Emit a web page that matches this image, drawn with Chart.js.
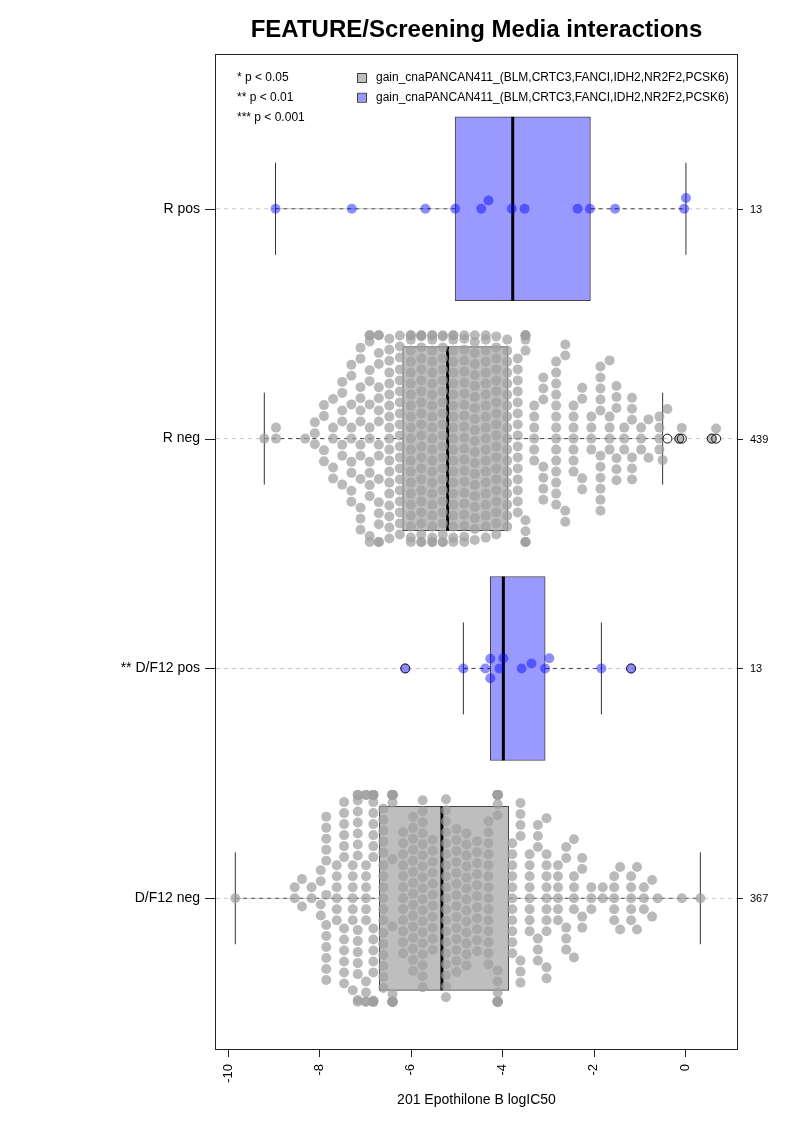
<!DOCTYPE html>
<html><head><meta charset="utf-8">
<script src="https://cdn.jsdelivr.net/npm/chart.js@4.4.0/dist/chart.umd.min.js"></script>
<style>html,body{margin:0;padding:0;background:#fff;}#wrap{width:793px;height:1122px;}</style>
</head><body><div id="wrap"><canvas id="c" width="793" height="1122"></canvas></div>
<script>
// ---------- data ----------
const title = 'FEATURE/Screening Media interactions';
const xTitle = '201 Epothilone B logIC50';
const categories = ['D/F12 neg', '** D/F12 pos', 'R neg', 'R pos']; // positions 1..4 (bottom to top)
const catPos = [1, 2, 3, 4];
const groupN = ['367', '13', '439', '13'];
const isPosGroup = [false, true, false, true];
const xTicks = [-10, -8, -6, -4, -2, 0];
const pLegend = ['* p < 0.05', '** p < 0.01', '*** p < 0.001'];
const seriesLegend = ['gain_cnaPANCAN411_(BLM,CRTC3,FANCI,IDH2,NR2F2,PCSK6)', 'gain_cnaPANCAN411_(BLM,CRTC3,FANCI,IDH2,NR2F2,PCSK6)'];

// box stats: [lower whisker, Q1, median, Q3, upper whisker]
const boxDF12neg = [-9.84, -6.689, -5.318, -3.859, 0.335];
const boxDF12pos = [-4.85, -4.26, -3.975, -3.06, -1.83];
const boxRneg = [-9.205, -6.178, -5.194, -3.873, -0.49];
const boxRpos = [-8.96, -5.03, -3.77, -2.07, 0.02];

// outliers
const outDF12neg = [];
const outDF12pos = [-6.12, -1.18];
const outRneg = [-0.385, -0.125, -0.07, 0.584, 0.68];
const outRpos = [];

// individual points (small groups)
const ptsRpos = [-8.96, -7.29, -5.68, -5.03, -4.46, -4.30, -3.79, -3.51, -2.35, -2.08, -1.53, -0.02, 0.02];
const ptsDF12pos = [-6.12, -4.85, -4.37, -4.26, -4.26, -4.06, -3.975, -3.575, -3.36, -3.06, -2.97, -1.83, -1.18];

// large groups: columns of points (value, number of points at that value)
const colRnegX = [-9.205, -8.95, -8.31, -8.10, -7.90, -7.70, -7.50, -7.30, -7.10, -6.90, -6.70, -6.47, -6.24,
  -6.00, -5.77, -5.53, -5.30, -5.07, -4.83, -4.60, -4.36, -4.13, -3.89,
  -3.66, -3.49, -3.30, -3.10, -2.82, -2.62, -2.44, -2.25, -2.05, -1.85, -1.65, -1.50, -1.33, -1.16, -0.96, -0.80, -0.56, -0.49,
  -0.385, -0.125, -0.07, 0.584, 0.68];
const colRnegN = [1, 2, 1, 3, 4, 5, 7, 9, 12, 14, 16, 19, 19,
  22, 23, 23, 22, 22, 21, 20, 20, 19, 18,
  15, 10, 6, 7, 14, 4, 7, 4, 4, 11, 5, 6, 3, 6, 3, 2, 4, 1,
  1, 1, 1, 1, 1];
const colDF12negX = [-9.84, -8.54, -8.38, -8.17, -7.97, -7.85, -7.62, -7.46, -7.27, -7.16, -6.98, -6.82,
  -6.60, -6.40, -6.17, -5.95, -5.74, -5.52, -5.23, -5.00, -4.78, -4.55, -4.30, -4.10,
  -3.78, -3.60, -3.40, -3.22, -3.03, -2.78, -2.60, -2.43, -2.25, -2.05, -1.80, -1.55, -1.42, -1.18, -1.05, -0.90, -0.72, -0.60, -0.07, 0.335];
const colDF12negN = [1, 2, 2, 2, 4, 12, 6, 12, 7, 15, 12, 19,
  17, 19, 12, 15, 18, 11, 19, 14, 13, 11, 14, 19,
  11, 7, 8, 6, 11, 6, 5, 6, 4, 3, 2, 5, 2, 5, 2, 3, 2, 1, 1, 1];

// ---------- build ----------
function expand(xs, ns) { const o = []; xs.forEach((v, i) => { for (let k = 0; k < ns[i]; k++) o.push(v); }); return o; }
const groupVals = [expand(colDF12negX, colDF12negN), ptsDF12pos, expand(colRnegX, colRnegN), ptsRpos];
const groupBoxes = [boxDF12neg, boxDF12pos, boxRneg, boxRpos];
const groupOut = [outDF12neg, outDF12pos, outRneg, outRpos];

const FONT = "'Liberation Sans', Arial, Helvetica, sans-serif";
const blueBox = '#9999ff', grayBox = '#bebebe';
const bluePt = 'rgba(0,0,255,0.45)', grayPt = 'rgba(160,160,160,0.72)';
const xMin = -10.262, xMax = 1.137, yMin = 0.3444, yMax = 4.669;
const boxHalf = 0.4, capHalf = 0.2, corral = 0.45, swarmD = 11;

const datasets = [];
catPos.forEach((p) => {
  datasets.push({ type: 'line', data: [{ x: xMin, y: p }, { x: xMax, y: p }], borderColor: '#c8c8c8', borderWidth: 1,
    borderDash: [4, 4], pointRadius: 0, fill: false, order: 100 });
});
datasets.push({ type: 'bar', indexAxis: 'y', grouped: false,
  data: groupBoxes.map((b, i) => ({ x: [b[1], b[3]], y: catPos[i] })),
  backgroundColor: isPosGroup.map(f => f ? blueBox : grayBox), borderColor: '#444', borderWidth: 1, borderSkipped: false,
  barThickness: 184, order: 90 });
groupBoxes.forEach((b, i) => {
  const p = catPos[i];
  const dash = { type: 'line', borderColor: '#444', borderWidth: 1, borderDash: [4, 4], pointRadius: 0, fill: false, order: 80 };
  datasets.push(Object.assign({}, dash, { data: [{ x: b[0], y: p }, { x: b[1], y: p }] }));
  datasets.push(Object.assign({}, dash, { data: [{ x: b[3], y: p }, { x: b[4], y: p }] }));
  const cap = { type: 'line', borderColor: '#333', borderWidth: 1, pointRadius: 0, fill: false, order: 80 };
  datasets.push(Object.assign({}, cap, { data: [{ x: b[0], y: p - capHalf }, { x: b[0], y: p + capHalf }] }));
  datasets.push(Object.assign({}, cap, { data: [{ x: b[4], y: p - capHalf }, { x: b[4], y: p + capHalf }] }));
  datasets.push({ type: 'line', data: [{ x: b[2], y: p - boxHalf }, { x: b[2], y: p + boxHalf }], borderColor: '#000',
    borderWidth: 3, pointRadius: 0, fill: false, order: 70 });
});
const pointSetIdx = [];
groupVals.forEach((vals, i) => {
  pointSetIdx.push(datasets.length);
  datasets.push({ type: 'scatter', data: [], pointRadius: 5, pointBorderWidth: 0,
    pointBackgroundColor: isPosGroup[i] ? bluePt : grayPt, borderColor: 'transparent', order: 50 });
});
groupOut.forEach((vals, i) => {
  datasets.push({ type: 'scatter', data: vals.map(v => ({ x: v, y: catPos[i] })), pointRadius: 4.5,
    pointBackgroundColor: 'rgba(0,0,0,0)', pointBorderColor: '#111', pointBorderWidth: 1, order: 10 });
});

const decor = {
  id: 'decor',
  afterDraw(chart) {
    const ctx = chart.ctx, a = chart.chartArea, xs = chart.scales.x, ys = chart.scales.y;
    ctx.save();
    ctx.strokeStyle = '#222'; ctx.lineWidth = 1;
    ctx.strokeRect(a.left - 0.5, a.top - 0.5, a.right - a.left + 1, a.bottom - a.top + 1);
    // x axis
    ctx.beginPath();
    ctx.moveTo(xs.getPixelForValue(xTicks[0]), a.bottom + 0.5);
    ctx.lineTo(xs.getPixelForValue(xTicks[xTicks.length - 1]), a.bottom + 0.5);
    xTicks.forEach(t => { const x = Math.round(xs.getPixelForValue(t)) + 0.5; ctx.moveTo(x, a.bottom); ctx.lineTo(x, a.bottom + 8); });
    ctx.stroke();
    ctx.fillStyle = '#000';
    ctx.font = '13px ' + FONT; ctx.textAlign = 'right'; ctx.textBaseline = 'middle';
    xTicks.forEach(t => {
      ctx.save(); ctx.translate(xs.getPixelForValue(t), a.bottom + 15); ctx.rotate(-Math.PI / 2);
      ctx.fillText(String(t), 0, 0); ctx.restore();
    });
    // y ticks and labels
    ctx.beginPath();
    catPos.forEach(p => {
      const y = Math.round(ys.getPixelForValue(p)) + 0.5;
      ctx.moveTo(a.left - 11, y); ctx.lineTo(a.left, y);
      ctx.moveTo(a.right, y); ctx.lineTo(a.right + 6, y);
    });
    ctx.stroke();
    ctx.font = '14px ' + FONT; ctx.textAlign = 'right';
    catPos.forEach((p, i) => ctx.fillText(categories[i], a.left - 16, ys.getPixelForValue(p)));
    ctx.font = '11px ' + FONT; ctx.textAlign = 'left';
    catPos.forEach((p, i) => ctx.fillText(groupN[i], a.right + 13, ys.getPixelForValue(p) + 1));
    // titles
    const cx = (a.left + a.right) / 2;
    ctx.textAlign = 'center';
    ctx.font = 'bold 24px ' + FONT; ctx.fillText(title, cx, 30);
    ctx.font = '14px ' + FONT; ctx.fillText(xTitle, cx, 1100);
    // legend
    ctx.font = '12px ' + FONT; ctx.textAlign = 'left';
    pLegend.forEach((s, i) => ctx.fillText(s, a.left + 21, 78 + i * 19.8));
    seriesLegend.forEach((s, i) => {
      const y = 78 + i * 19.8;
      ctx.fillStyle = i === 0 ? grayBox : blueBox;
      ctx.fillRect(358, y - 4, 8, 8);
      ctx.strokeStyle = '#444'; ctx.strokeRect(357.5, y - 4.5, 9, 9);
      ctx.fillStyle = '#000'; ctx.fillText(s, 376, y);
    });
    ctx.restore();
  }
};

const chart = new Chart(document.getElementById('c'), {
  type: 'scatter',
  data: { datasets },
  options: {
    responsive: false, animation: false, devicePixelRatio: 1, events: [],
    layout: { padding: { left: 216, top: 55, right: 56, bottom: 73 } },
    scales: { x: { type: 'linear', min: xMin, max: xMax, display: false, offset: false },
              y: { type: 'linear', min: yMin, max: yMax, display: false, offset: false } },
    plugins: { legend: { display: false }, tooltip: { enabled: false }, title: { display: false } }
  },
  plugins: [decor]
});

// beeswarm ("swarm" method, ascending priority, gutter corral) using the chart's scales
function swarm(values, toPx, d) {
  const idx = values.map((v, i) => i).sort((a, b) => values[a] - values[b]);
  const placed = [], out = new Array(values.length);
  for (const i of idx) {
    const x = toPx(values[i]);
    const near = placed.filter(p => Math.abs(p.x - x) < d);
    const cands = [0];
    for (const p of near) { const h = Math.sqrt(d * d - (p.x - x) * (p.x - x)); cands.push(p.y + h, p.y - h); }
    cands.sort((a, b) => (Math.abs(a) - Math.abs(b)) || (b - a));
    let y = 0;
    for (const c of cands) {
      let ok = true;
      for (const p of near) { const dx = p.x - x, dy = p.y - c; if (dx * dx + dy * dy < d * d - 1e-6) { ok = false; break; } }
      if (ok) { y = c; break; }
    }
    placed.push({ x, y }); out[i] = y;
  }
  return out;
}
const xs = chart.scales.x, ys = chart.scales.y;
const pxPerUnit = ys.getPixelForValue(0) - ys.getPixelForValue(1);
const limitPx = corral * pxPerUnit;
groupVals.forEach((vals, g) => {
  const offs = swarm(vals, v => xs.getPixelForValue(v), swarmD);
  chart.data.datasets[pointSetIdx[g]].data = vals.map((v, k) => ({
    x: v, y: catPos[g] + Math.max(-limitPx, Math.min(limitPx, offs[k])) / pxPerUnit }));
});
chart.update('none');
</script></body></html>
